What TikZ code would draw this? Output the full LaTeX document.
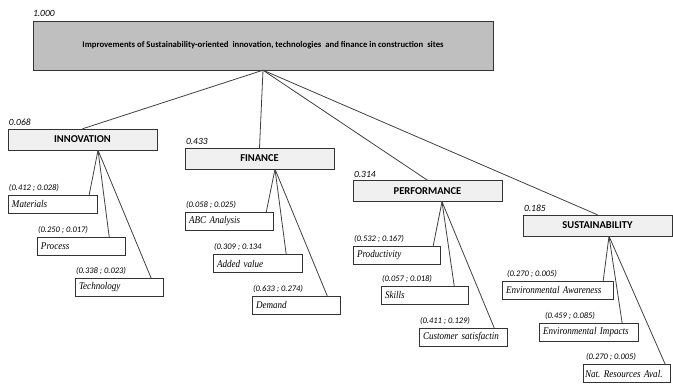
\documentclass[tikz,border=0pt]{standalone}
\usepackage{fontspec}
\setmainfont{Liberation Serif}
\newfontfamily\carlito{Carlito}
\newfontfamily\leaffont[FakeStretch=0.88]{Liberation Serif Italic}
\usetikzlibrary{calc, positioning}
\frenchspacing

\begin{document}
\begin{tikzpicture}[
    x=1pt, y=-1pt,
    goal/.style={draw=black!80, fill=black!25, minimum width=460pt, minimum height=49pt,
        inner sep=0pt, font=\carlito\bfseries\fontsize{8.7}{10}\selectfont},
    crit/.style={draw=black!80, fill=black!6, minimum width=149pt, minimum height=21pt,
        inner sep=0pt, font=\carlito\bfseries\fontsize{10.5}{12}\selectfont},
    sub/.style={draw=black!80, fill=white, text width=#1, inner xsep=4pt, inner ysep=0pt,
        minimum height=18pt, align=left, font=\leaffont\fontsize{10.3}{11}\selectfont},
    sub/.default=80pt,
    weight/.style={inner sep=0pt, font=\carlito\itshape\fontsize{9.5}{10}\selectfont},
    pair/.style={inner sep=0pt, font=\carlito\itshape\fontsize{8.5}{9}\selectfont},
    link/.style={line width=0.8pt, draw=black!75}
]
\useasboundingbox (0,0) rectangle (673,385);

% Goal
\node[goal] (goal) at (263,45.5) {Improvements of Sustainability-oriented \ innovation, technologies \ and finance in construction \ sites};
\node[weight, above right=4pt and 0pt of goal.north west] (goal_w) {1.000};

% Criteria
\node[crit] (innovation) at (82.5,139.5) {INNOVATION};
\node[crit] (finance) at (259.5,158.5) {FINANCE};
\node[crit] (performance) at (427.5,191) {PERFORMANCE};
\node[crit] (sustainability) at (597.5,225.5) {SUSTAINABILITY};

\node[weight, above right=3pt and 1pt of innovation.north west] (innovation_w) {0.068};
\node[weight, above right=3pt and 1pt of finance.north west] (finance_w) {0.433};
\node[weight, above right=3pt and 1pt of performance.north west] (performance_w) {0.314};
\node[weight, above right=3pt and 1pt of sustainability.north west] (sustainability_w) {0.185};

\coordinate (innovation_a) at ($(innovation.south)+(15.5,0)$);
\coordinate (finance_a) at ($(finance.south)+(15.5,0)$);
\coordinate (performance_a) at ($(performance.south)+(14.5,0)$);
\coordinate (sustainability_a) at ($(sustainability.south)+(11.5,0)$);

% Sub-criteria
\node[sub=81pt] (materials) at (52.5,204) {Materials};
\node[sub] (process) at (81,246) {Process};
\node[sub] (technology) at (119,287.5) {Technology};

\node[sub] (abc) at (229,221.5) {ABC Analysis};
\node[sub=81pt] (added_value) at (257.5,263.5) {Added value};
\node[sub] (demand) at (296,305) {Demand};

\node[sub=79pt] (productivity) at (396.5,255) {Productivity};
\node[sub=79pt] (skills) at (424.5,295) {Skills};
\node[sub] (customer) at (463,337) {Customer satisfactin};

\node[sub=103pt] (env_awareness) at (557.5,290) {Environmental Awareness};
\node[sub=91pt] (env_impacts) at (588.5,332.5) {Environmental Impacts};
\node[sub=83pt, inner xsep=2pt] (nat_resources) at (626.5,373.5) {Nat. Resources Aval.};

\node[pair, above right=3pt and 1pt of materials.north west] (materials_w) {(0.412 ; 0.028)};
\node[pair, above right=3pt and 1pt of process.north west] (process_w) {(0.250 ; 0.017)};
\node[pair, above right=3pt and 1pt of technology.north west] (technology_w) {(0.338 ; 0.023)};
\node[pair, above right=3pt and 1pt of abc.north west] (abc_w) {(0.058 ; 0.025)};
\node[pair, above right=3pt and 1pt of added_value.north west] (added_value_w) {(0.309 ; 0.134};
\node[pair, above right=3pt and 1pt of demand.north west] (demand_w) {(0.633 ; 0.274)};
\node[pair, above right=3pt and 1pt of productivity.north west] (productivity_w) {(0.532 ; 0.167)};
\node[pair, above right=3pt and 1pt of skills.north west] (skills_w) {(0.057 ; 0.018)};
\node[pair, above right=3pt and 1pt of customer.north west] (customer_w) {(0.411 ; 0.129)};
\node[pair, above right=3pt and 5pt of env_awareness.north west] (env_awareness_w) {(0.270 ; 0.005)};
\node[pair, above right=3pt and 6pt of env_impacts.north west] (env_impacts_w) {(0.459 ; 0.085)};
\node[pair, above right=3pt and 3pt of nat_resources.north west] (nat_resources_w) {(0.270 ; 0.005)};

% Edges
\draw[link] (goal.south) -- (innovation.north);
\draw[link] (goal.south) -- (finance.north);
\draw[link] (goal.south) -- (performance.north);
\draw[link] (goal.south) -- (sustainability.north);

\draw[link] (innovation_a) -- ($(materials.north east)+(-8,0)$);
\draw[link] (innovation_a) -- ($(process.north east)+(-16,0)$);
\draw[link] (innovation_a) -- ($(technology.north east)+(-12,0)$);

\draw[link] (finance_a) -- ($(abc.north east)+(-7,0)$);
\draw[link] (finance_a) -- ($(added_value.north east)+(-16,0)$);
\draw[link] (finance_a) -- ($(demand.north east)+(-13,0)$);

\draw[link] (performance_a) -- ($(productivity.north east)+(-7,0)$);
\draw[link] (performance_a) -- ($(skills.north east)+(-14,0)$);
\draw[link] (performance_a) -- ($(customer.north east)+(-13,0)$);

\draw[link] (sustainability_a) -- ($(env_awareness.north east)+(-10,0)$);
\draw[link] (sustainability_a) -- ($(env_impacts.north east)+(-16,0)$);
\draw[link] (sustainability_a) -- ($(nat_resources.north east)+(-5,0)$);

\end{tikzpicture}
\end{document}
